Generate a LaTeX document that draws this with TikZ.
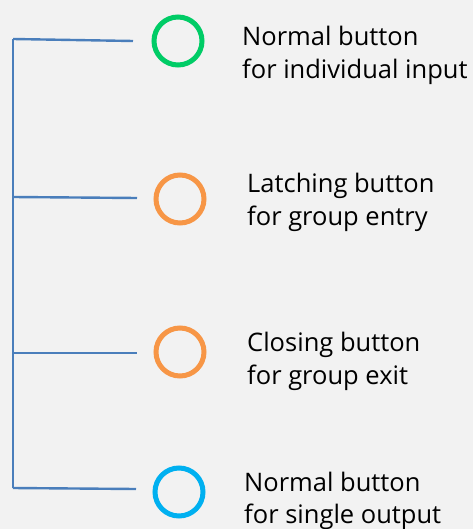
\documentclass[tikz,border=0pt]{standalone}
\usepackage{fontspec}
\setmainfont{Open Sans}
\usetikzlibrary{positioning}
\definecolor{bggrey}{HTML}{F2F2F2}
\definecolor{branchblue}{HTML}{4A7EBB}
\definecolor{btngreen}{HTML}{00CC66}
\definecolor{btnorange}{HTML}{F79646}
\definecolor{btnblue}{HTML}{00B0F0}
\tikzstyle{branch} = [draw=branchblue,line width=2.4pt]
\tikzset{btn/.style={
    circle, draw, line width=5pt, minimum size=48pt, inner sep=0pt,
  },
  lbl/.style={
    anchor=base west, align=left, inner sep=0pt,
    font=\fontsize{25.5}{32.5}\selectfont,
  },
}

\begin{document}
\begin{tikzpicture}[x=1pt,y=-1pt]
        \fill[bggrey] (0,0) rectangle (473,529);
        \useasboundingbox (0,0) rectangle (473,529);

        % buttons
        \node[btn, draw=btngreen] (normalin) at (178,41) {};
        \node[btn, draw=btnorange] (latching) at (180,199) {};
        \node[btn, draw=btnorange] (closing) at (180,352) {};
        \node[btn, draw=btnblue] (normalout) at (179,492) {};

        % labels sit on the baseline of their second line
        \node[lbl] (txtin) at (242,78.5) {Normal button\\for individual input};
        \node[lbl] (txtlatch) at (247,225) {Latching button\\for group entry};
        \node[lbl] (txtclose) at (247,384) {Closing button\\for group exit};
        \node[lbl] (txtout) at (244,523.5) {Normal button\\for single output};

        % the bracket on the left
        \coordinate (jin) at (13,39);
        \coordinate (jlatch) at (13,197);
        \coordinate (jclose) at (13,353);
        \coordinate (jout) at (13,488);
        \coordinate (ein) at (133,41);
        \coordinate (elatch) at (137,198);
        \coordinate (eclose) at (137,353);
        \coordinate (eout) at (136,489);

        \draw[branch] (jin) -- (jout);
        \draw[branch] (jin) -- (ein);
        \draw[branch] (jlatch) -- (elatch);
        \draw[branch] (jclose) -- (eclose);
        \draw[branch] (jout) -- (eout);
    \end{tikzpicture}
\end{document}
